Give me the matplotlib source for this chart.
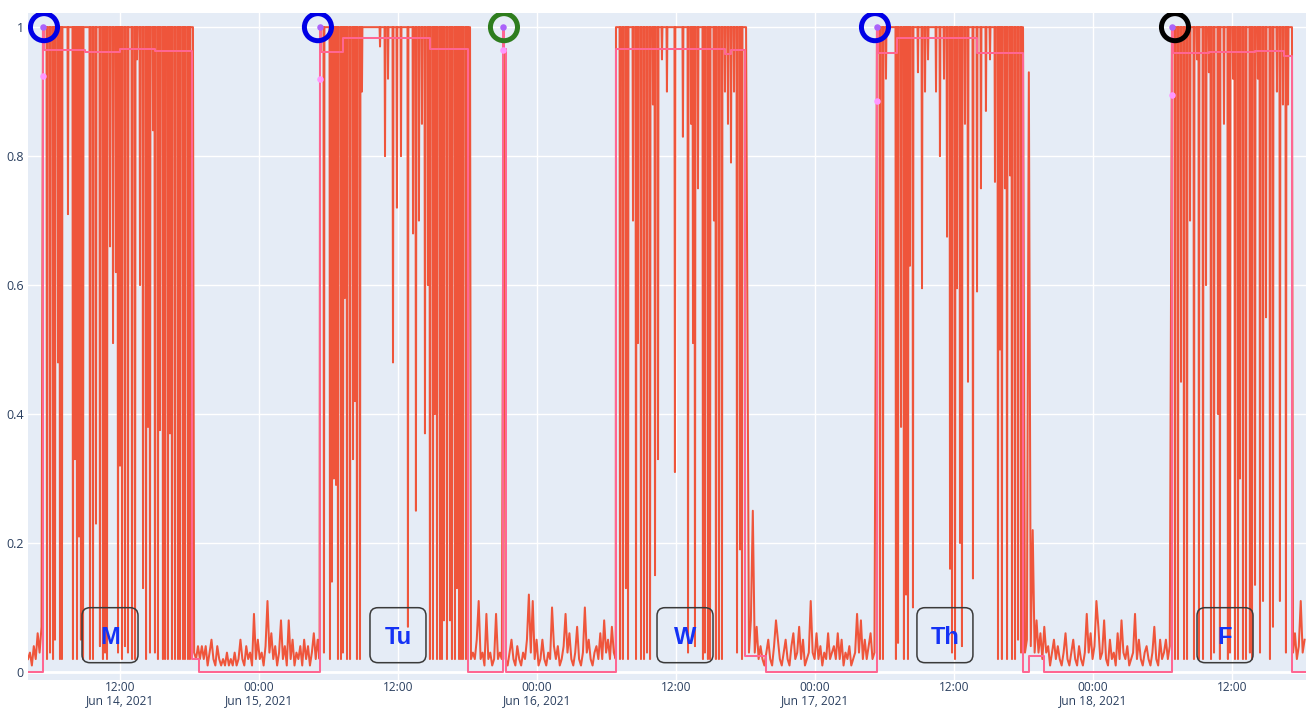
import numpy as np
import matplotlib
matplotlib.use('Agg')
import matplotlib.pyplot as plt
import matplotlib.dates as mdates
from matplotlib.patches import FancyBboxPatch
from matplotlib.transforms import ScaledTranslation

# all times are hours since 2021-06-14 00:00 unless said otherwise
x_start, x_end = 4.06, 114.39

# quiet periods, one reading every 10 minutes, in percent
pre_mon = [2, 3, 1, 4, 2, 6, 3, 7]
night_1 = [3, 2, 4, 2, 4, 2, 4, 1, 3, 5, 2, 1, 4, 2, 1, 2, 1, 3, 1, 2,
           1, 3, 1, 2, 5, 2, 1, 4, 2, 3, 1, 9, 2, 5, 2, 3, 1, 4, 11, 3,
           6, 2, 4, 1, 3, 8, 2, 4, 1, 8, 2, 5, 1, 3, 2, 4, 1, 5, 2, 4,
           1, 3, 6, 2, 5, 2]
night_2 = [2, 3, 2, 5, 11, 2, 3, 1, 9, 2, 3, 1, 2, 9, 2, 3, 2, 100,
           2, 1, 3, 5, 2, 1, 4, 2, 1, 3, 2, 5, 12, 3, 11, 2, 5, 1, 2, 5,
           2, 1, 3, 2, 10, 4, 2, 4, 1, 2, 4, 9, 3, 6, 2, 1, 3, 7, 2, 1,
           3, 10, 3, 5, 2, 1, 3, 4, 2, 6, 2, 8, 3, 5, 2, 7, 3, 2]
night_3 = [3, 8, 25, 3, 7, 2, 4, 2, 1, 3, 5, 2, 1, 4, 8, 5, 2, 1, 3, 5,
           2, 1, 4, 6, 2, 3, 7, 2, 5, 1, 2, 3, 11, 3, 2, 6, 2, 4, 1, 3,
           2, 6, 2, 3, 4, 2, 6, 2, 5, 1, 3, 2, 4, 1, 2, 3, 9, 3, 8, 2,
           5, 2, 4, 6, 2, 3]
night_4 = [3, 5, 93, 4, 22, 3, 8, 3, 6, 2, 7, 3, 4, 1, 3, 5, 2, 4, 2, 1,
           3, 6, 2, 1, 3, 5, 2, 1, 4, 2, 1, 3, 9, 3, 6, 2, 4, 11, 7, 2,
           3, 8, 2, 1, 5, 2, 3, 1, 6, 2, 8, 3, 2, 4, 1, 2, 3, 9, 2, 5,
           2, 1, 3, 4, 2, 1, 3, 7, 2, 1, 5, 2, 3, 5, 2, 4]
fri_tail = [3, 6, 2, 4, 11, 3, 5]
quiet_start = [4.06, 18.40, 42.30, 66.30, 90.13, 113.27]
quiet_vals = [pre_mon, night_1, night_2, night_3, night_4, fri_tail]

# busy periods: value sits at 1 with short drops (hour of the day)
busy_start = [5.35, 5.27, 6.82, 5.35, 6.82]
busy_end = [18.30, 18.22, 18.05, 17.96, 17.18]
mon_dip_t = [5.70, 5.96, 6.22, 6.39, 6.65, 6.82, 6.99, 7.51, 7.94, 8.11, 8.29, 8.46, 8.63, 8.81,
             9.41, 9.67, 9.93, 10.27, 10.53, 10.71, 10.88, 11.14, 11.40, 11.65, 11.83, 12.00,
             12.17, 12.43, 12.69, 13.04, 13.30, 13.47, 13.73, 13.99, 14.25, 14.42, 14.59, 14.85,
             15.02, 15.28, 15.45, 15.71, 15.89, 16.14, 16.32, 16.49, 16.75, 17.01, 17.18, 17.44,
             17.61, 17.87, 18.04]
mon_dip_v = [0.02, 0.03, 0.02, 0.05, 0.48, 0.02, 0.02, 0.71, 0.02, 0.33, 0.02, 0.21, 0.05, 0.02,
             0.02, 0.02, 0.23, 0.04, 0.02, 0.03, 0.02, 0.66, 0.51, 0.62, 0.03, 0.32,
             0.02, 0.04, 0.03, 0.02, 0.02, 0.95, 0.60, 0.13, 0.02, 0.38, 0.03, 0.84,
             0.03, 0.02, 0.375, 0.02, 0.02, 0.02, 0.37, 0.02, 0.02, 0.02, 0.02, 0.02,
             0.02, 0.02, 0.02]
tue_dip_t = [5.61, 6.13, 6.30, 6.47, 6.65, 6.82, 7.08, 7.25, 7.42, 7.60, 7.86, 8.12, 8.29, 8.46,
             8.72, 8.89, 10.45, 10.88, 11.14, 11.57, 11.91, 12.26, 12.86, 13.30, 13.55, 13.81,
             14.07, 14.33, 14.59, 14.76, 15.02, 15.19, 15.37, 15.63, 15.80, 15.97, 16.23, 16.49,
             16.66, 16.92, 17.09, 17.27, 17.44, 17.61, 17.87, 18.04]
tue_dip_v = [0.03, 0.02, 0.14, 0.30, 0.29, 0.02, 0.02, 0.03, 0.58, 0.02, 0.02, 0.33, 0.42, 0.02,
             0.02, 0.90, 0.97, 0.80, 0.92, 0.48, 0.72, 0.80, 0.07, 0.68, 0.25, 0.70,
             0.85, 0.37, 0.60, 0.02, 0.02, 0.40, 0.02, 0.02, 0.02, 0.08, 0.02, 0.08,
             0.02, 0.02, 0.13, 0.02, 0.02, 0.02, 0.02, 0.02]
wed_dip_t = [7.17, 7.42, 7.68, 7.86, 8.29, 8.55, 8.72, 8.98, 9.24, 9.50, 9.76, 10.01, 10.19,
             10.45, 10.79, 11.22, 11.91, 12.60, 13.04, 13.30, 13.47, 13.64, 13.90, 14.33, 14.50,
             14.76, 14.94, 15.28, 15.45, 15.71, 15.97, 16.23, 16.49, 16.75, 17.01, 17.27, 17.53,
             17.70]
wed_dip_v = [0.02, 0.02, 0.13, 0.02, 0.70, 0.02, 0.51, 0.02, 0.02, 0.03, 0.02, 0.88, 0.15,
             0.33, 0.95, 0.90, 0.31, 0.83, 0.03, 0.85, 0.51, 0.04, 0.75, 0.02, 0.03,
             0.02, 0.02, 0.70, 0.02, 0.02, 0.02, 0.90, 0.85, 0.79, 0.90, 0.03, 0.19,
             0.02]
thu_dip_t = [5.61, 5.87, 6.13, 6.99, 7.17, 7.43, 7.68, 7.86, 8.03, 8.20, 8.46, 8.89, 9.24, 9.50,
             9.76, 10.45, 10.79, 11.14, 11.40, 11.66, 11.83, 12.09, 12.26, 12.52, 12.69, 12.95,
             13.21, 13.64, 13.99, 14.33, 14.76, 15.11, 15.54, 15.80, 15.97, 16.14, 16.40, 16.58,
             16.84, 17.01, 17.27, 17.53, 17.79]
thu_dip_v = [0.02, 0.02, 0.92, 0.02, 0.045, 0.38, 0.02, 0.12, 0.02, 0.63, 0.10, 0.93, 0.595, 0.90,
             0.95, 0.90, 0.80, 0.92, 0.675, 0.16, 0.03, 0.02, 0.595, 0.20, 0.04, 0.85,
             0.45, 0.145, 0.59, 0.75, 0.87, 0.95, 0.76, 0.02, 0.50, 0.02, 0.75, 0.02,
             0.77, 0.02, 0.02, 0.05, 0.03]
fri_dip_t = [7.08, 7.34, 7.60, 7.86, 8.12, 8.38, 8.72, 8.98, 9.15, 9.50, 9.76, 10.01, 10.19,
             10.45, 10.79, 10.96, 11.31, 11.65, 11.83, 12.09, 12.26, 12.52, 12.69, 12.95, 13.21,
             13.55, 13.73, 13.99, 14.24, 14.42, 14.68, 14.94, 15.28, 15.54, 15.88, 16.14, 16.40,
             16.66, 16.84]
fri_dip_v = [0.02, 0.02, 0.45, 0.02, 0.02, 0.70, 0.02, 0.95, 0.02, 0.02, 0.60, 0.93, 0.02,
             0.03, 0.40, 0.02, 0.85, 0.02, 0.03, 0.92, 0.02, 0.02, 0.30, 0.02, 0.02,
             0.03, 0.02, 0.135, 0.92, 0.03, 0.11, 0.55, 0.02, 0.07, 0.90, 0.11, 0.88,
             0.03, 0.88]
dips = [(mon_dip_t, mon_dip_v), (tue_dip_t, tue_dip_v), (wed_dip_t, wed_dip_v),
        (thu_dip_t, thu_dip_v), (fri_dip_t, fri_dip_v)]

# smoothed state line (step changes)
pink_t = [4.06, 5.35, 5.42, 9.0, 12.0, 15.0, 18.22, 18.82, 29.27, 29.33, 31.25, 38.76, 42.04,
          45.10, 45.16, 45.33, 54.82, 64.23, 64.75, 65.96, 67.77, 77.35, 77.41, 79.08, 86.0,
          89.96, 90.48, 91.77, 102.82, 102.88, 106.0, 110.0, 112.5, 113.18, 114.39]
pink_v = [0, 1.0, 0.965, 0.962, 0.966, 0.963, 0.02, 0, 1.0, 0.962, 0.983, 0.966, 0,
          1.0, 0.966, 0, 0.966, 0.958, 0.965, 0.025, 0, 1.0, 0.96, 0.983, 0.96,
          0, 0.025, 0, 1.0, 0.96, 0.962, 0.963, 0.955, 0, 0]

start_t = [5.35, 29.27, 45.10, 77.35, 102.82]
start_low = [0.925, 0.92, 0.965, 0.885, 0.895]
circle_t = [5.44, 29.09, 45.15, 77.18, 103.08]
circle_c = ['#0000e6', '#0000e6', '#2e7d1e', '#0000e6', '#000000']

day_labels = ['M', 'Tu', 'W', 'Th', 'F']
label_t = [11.14, 36.0, 60.78, 83.22, 107.4]
label_y = 0.057

tick_h = [12, 24, 36, 48, 60, 72, 84, 96, 108]
tick_labels = ['12:00\nJun 14, 2021', '00:00\nJun 15, 2021', '12:00', '00:00\nJun 16, 2021',
               '12:00', '00:00\nJun 17, 2021', '12:00', '00:00\nJun 18, 2021', '12:00']

t0 = mdates.date2num(np.datetime64('2021-06-14T00:00'))


def to_x(h):
    return t0 + np.asarray(h, dtype=float) / 24


# stitch the orange series together in time order
w = 0.04
pieces = []
for i in range(6):
    tq = quiet_start[i] + np.arange(len(quiet_vals[i])) / 6
    pieces.append((tq, np.array(quiet_vals[i]) / 100))
    if i < 5:
        dt, dv = dips[i]
        t = [busy_start[i]]
        v = [1.0]
        for a, b in zip(dt, dv):
            t += [a - w, a, a + w]
            v += [1.0, b, 1.0]
        t.append(busy_end[i])
        v.append(1.0)
        pieces.append((np.array(t) + 24 * i, np.array(v)))
ot = np.concatenate([p[0] for p in pieces])
ov = np.concatenate([p[1] for p in pieces])

fig = plt.figure(figsize=(13.09, 7.09), dpi=100)
ax = fig.add_axes([0.0214, 0.0409, 0.9763, 0.9408])
ax.set_facecolor('#E5ECF6')
for s in ax.spines.values():
    s.set_visible(False)
ax.grid(color='white', lw=1)
ax.set_axisbelow(True)
ax.axhline(0, color='white', lw=2, zorder=1)

ax.plot(to_x(ot), ov, color='#EF553B', lw=1.45, zorder=3)
ax.plot(to_x(pink_t), pink_v, drawstyle='steps-post', color='#FF6692', lw=1.45, zorder=4)
ax.scatter(to_x(start_t), [1.0] * 5, s=22, color='#AB63FA', zorder=5, linewidths=0)
ax.scatter(to_x(start_t), start_low, s=22, color='#FF97FF', zorder=5, linewidths=0)
ax.scatter(to_x(circle_t), [1.0] * 5, s=380, facecolors='none', edgecolors=circle_c,
           linewidths=3.6, zorder=6)

for lab, th in zip(day_labels, label_t):
    xd = float(to_x(th))
    trans = fig.dpi_scale_trans + ScaledTranslation(xd, label_y, ax.transData)
    box = FancyBboxPatch((-0.28, -0.275), 0.56, 0.55,
                         boxstyle='round,pad=0,rounding_size=0.08',
                         transform=trans, fc='none', ec='#3a3a3a', lw=1.1, zorder=7)
    ax.add_patch(box)
    ax.text(xd, label_y - 0.004, lab, ha='center', va='center', fontsize=17,
            fontweight='bold', color='#1432f5', family='Liberation Sans', zorder=8)

ax.set_xticks(to_x(tick_h))
ax.set_xticklabels(tick_labels)
ax.set_yticks([0, 0.2, 0.4, 0.6, 0.8, 1.0])
ax.set_yticklabels(['0', '0.2', '0.4', '0.6', '0.8', '1'])
ax.tick_params(axis='y', length=0, labelcolor='#2a3f5f', labelsize=9, pad=3)
ax.tick_params(axis='x', length=0, labelcolor='#2a3f5f', labelsize=8.6, pad=1)
for lbl in ax.get_xticklabels():
    lbl.set_family('Open Sans')
    lbl.set_linespacing(0.95)
for lbl in ax.get_yticklabels():
    lbl.set_family('Open Sans')

ax.set_xlim(to_x(x_start), to_x(x_end))
ax.set_ylim(-0.0125, 1.022)

fig.savefig('out.png', dpi=100)
